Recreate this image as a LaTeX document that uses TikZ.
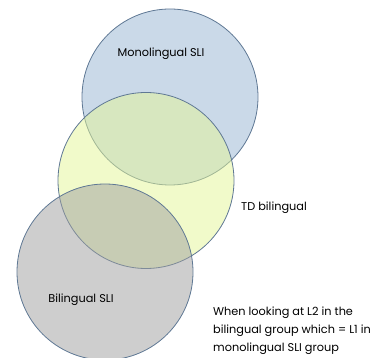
\documentclass[tikz,border=0pt]{standalone}
\usepackage{fontspec}
\setmainfont{Poppins}
\definecolor{cblue}{RGB}{150,180,210}
\definecolor{cyellow}{RGB}{228,245,150}
\definecolor{cgray}{RGB}{158,158,158}
\definecolor{cline}{RGB}{95,120,148}
\begin{document}
\begin{tikzpicture}[x=1pt,y=-1pt,
  venn/.style={circle,draw=cline,line width=0.8pt,fill opacity=0.5,minimum size=176pt,inner sep=0pt},
  lbl/.style={font=\fontsize{11.3}{13}\selectfont,text=black,inner sep=0pt}]
\useasboundingbox (0,0) rectangle (391,358);
\node[venn,fill=cblue] (mono) at (170,97) {};
\node[venn,fill=cyellow] (td) at (146,180.5) {};
\node[venn,fill=cgray] (bil) at (105,272) {};
\node[lbl] (monol) at (161,54) {Monolingual SLI};
\node[lbl,anchor=west] (tdl) at (241,208) {TD bilingual};
\node[lbl] (bill) at (81,300) {Bilingual SLI};
\node[lbl,anchor=base west,align=left,font=\fontsize{11.3}{18}\selectfont] (note) at (213,351) {When looking at L2 in the\\bilingual group which = L1 in\\monolingual SLI group};
\end{tikzpicture}
\end{document}
